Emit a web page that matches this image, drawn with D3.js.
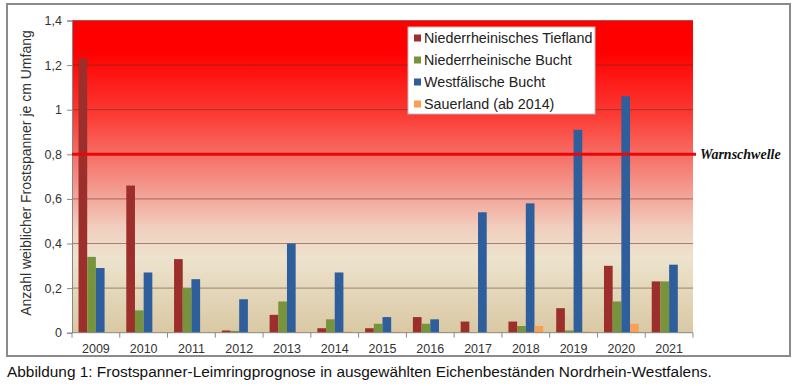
<!DOCTYPE html>
<html>
<head>
<meta charset="utf-8">
<script src="https://cdn.jsdelivr.net/npm/d3@7"></script>
<style>
  body { margin: 0; background: #fff; }
  svg { display: block; font-family: "Liberation Sans", Arial, sans-serif; }
</style>
</head>
<body>
<svg id="chart"></svg>
<script>
// Daten
const years = ["2009", "2010", "2011", "2012", "2013", "2014", "2015", "2016", "2017", "2018", "2019", "2020", "2021"];
const seriesNames = ["Niederrheinisches Tiefland", "Niederrheinische Bucht", "Westfälische Bucht", "Sauerland (ab 2014)"];
const tiefland = [1.23, 0.66, 0.33, 0.01, 0.08, 0.02, 0.02, 0.07, 0.05, 0.05, 0.11, 0.30, 0.23];
const bucht = [0.34, 0.10, 0.20, 0.008, 0.14, 0.06, 0.04, 0.04, 0, 0.03, 0.01, 0.14, 0.23];
const westfalen = [0.29, 0.27, 0.24, 0.15, 0.40, 0.27, 0.07, 0.06, 0.54, 0.58, 0.91, 1.06, 0.305];
const sauerland = [null, null, null, null, null, 0.005, 0.004, 0.003, 0, 0.03, 0.005, 0.04, null];
const yTicks = [0, 0.2, 0.4, 0.6, 0.8, 1, 1.2, 1.4];
const warnValue = 0.8;

const colors = ["#9c2f2c", "#77933c", "#2e5e9c", "#f9a056"];
const allSeries = [tiefland, bucht, westfalen, sauerland];

const W = 800, H = 386;
const plot = { left: 72, right: 693, top: 20.5, bottom: 332.7 };

const svg = d3.select("#chart").attr("width", W).attr("height", H);

// Rahmen
svg.append("rect")
  .attr("x", 7).attr("y", 4).attr("width", 783).attr("height", 352)
  .attr("fill", "#fff").attr("stroke", "#8a8a8a").attr("stroke-width", 2);

// Hintergrund-Verlauf
const grad = svg.append("defs").append("linearGradient")
  .attr("id", "bg").attr("x1", 0).attr("y1", 0).attr("x2", 0).attr("y2", 1);
[[0, "#ff0000"], [0.1, "#ff0000"], [0.3, "#fb3a33"], [0.5, "#f48a80"], [0.66, "#f1cdbd"],
 [0.76, "#ede3cd"], [1, "#d9c8a3"]].forEach(([o, c]) => {
  grad.append("stop").attr("offset", o).attr("stop-color", c);
});

const x = d3.scaleBand().domain(years).range([plot.left, plot.right]).padding(0);
const xs = d3.scaleBand().domain(d3.range(4)).range([0, x.bandwidth()])
  .paddingInner(0).paddingOuter(0.75);
const y = d3.scaleLinear().domain([0, 1.4]).range([plot.bottom, plot.top]);

svg.append("rect")
  .attr("x", plot.left).attr("y", y(1.4))
  .attr("width", plot.right - plot.left).attr("height", y(0) - y(1.4))
  .attr("fill", "url(#bg)");

// Gitterlinien
svg.append("g").selectAll("line").data(yTicks.filter(d => d > 0)).join("line")
  .attr("x1", plot.left).attr("x2", plot.right)
  .attr("y1", d => y(d)).attr("y2", d => y(d))
  .attr("stroke", "#5a2a20").attr("stroke-opacity", 0.5).attr("stroke-width", 1);

// Balken
allSeries.forEach((vals, si) => {
  svg.append("g").selectAll("rect")
    .data(years.map((yr, i) => ({ yr, v: vals[i] })).filter(d => d.v != null && d.v > 0))
    .join("rect")
    .attr("x", d => x(d.yr) + xs(si))
    .attr("width", xs.bandwidth())
    .attr("y", d => y(d.v))
    .attr("height", d => y(0) - y(d.v))
    .attr("fill", colors[si]);
});

// Achsen
const yAxis = svg.append("g")
  .attr("transform", `translate(${plot.left},0)`)
  .call(d3.axisLeft(y).tickValues(yTicks).tickSize(5).tickPadding(5)
    .tickFormat(d => d3.format("~g")(d).replace(".", ",")));
const xAxis = svg.append("g")
  .attr("transform", `translate(0,${plot.bottom})`)
  .call(d3.axisBottom(x).tickSize(0).tickPadding(11));
xAxis.selectAll(".tick line").remove();
// Teilstriche zwischen den Kategorien
xAxis.selectAll("line.sep").data(years.concat(["end"])).join("line")
  .attr("class", "sep")
  .attr("x1", (d, i) => plot.left + i * x.step())
  .attr("x2", (d, i) => plot.left + i * x.step())
  .attr("y1", 0).attr("y2", 5)
  .attr("stroke", "#888");

[yAxis, xAxis].forEach(a => {
  a.select(".domain").attr("stroke", "#888");
  a.selectAll(".tick line").attr("stroke", "#888");
  a.selectAll("text").attr("fill", "#333").attr("font-size", 12.5)
    .attr("font-family", "Liberation Sans, Arial, sans-serif");
});
xAxis.select(".domain").attr("d", `M${plot.left},0H${plot.right}`);

// Warnschwelle
svg.append("line")
  .attr("x1", plot.left).attr("x2", plot.right + 3)
  .attr("y1", y(warnValue)).attr("y2", y(warnValue))
  .attr("stroke", "#e8080a").attr("stroke-width", 3);
svg.append("text")
  .attr("x", 700).attr("y", y(warnValue) + 5)
  .attr("font-family", "Liberation Serif, Times New Roman, serif")
  .attr("font-style", "italic").attr("font-weight", "bold")
  .attr("font-size", 14).attr("fill", "#111")
  .text("Warnschwelle");

// Achsentitel
svg.append("text")
  .attr("transform", `translate(31,173) rotate(-90)`)
  .attr("text-anchor", "middle")
  .attr("font-size", 14).attr("fill", "#333")
  .text("Anzahl weiblicher Frostspanner je cm Umfang");

// Legende
const lg = svg.append("g").attr("transform", "translate(408,27)");
lg.append("rect").attr("width", 187).attr("height", 87)
  .attr("fill", "#fff").attr("stroke", "#bbb").attr("stroke-width", 1);
seriesNames.forEach((name, i) => {
  const row = lg.append("g").attr("transform", `translate(6,${11 + i * 22})`);
  row.append("rect").attr("x", 0).attr("y", -3.5).attr("width", 7).attr("height", 7)
    .attr("fill", colors[i]);
  row.append("text").attr("x", 10).attr("y", 5)
    .attr("font-size", 14.3).attr("fill", "#222").text(name);
});

// Bildunterschrift
svg.append("text")
  .attr("x", 7).attr("y", 377)
  .attr("font-size", 15.4).attr("fill", "#111")
  .text("Abbildung 1: Frostspanner-Leimringprognose in ausgewählten Eichenbeständen Nordrhein-Westfalens.");
</script>
</body>
</html>
